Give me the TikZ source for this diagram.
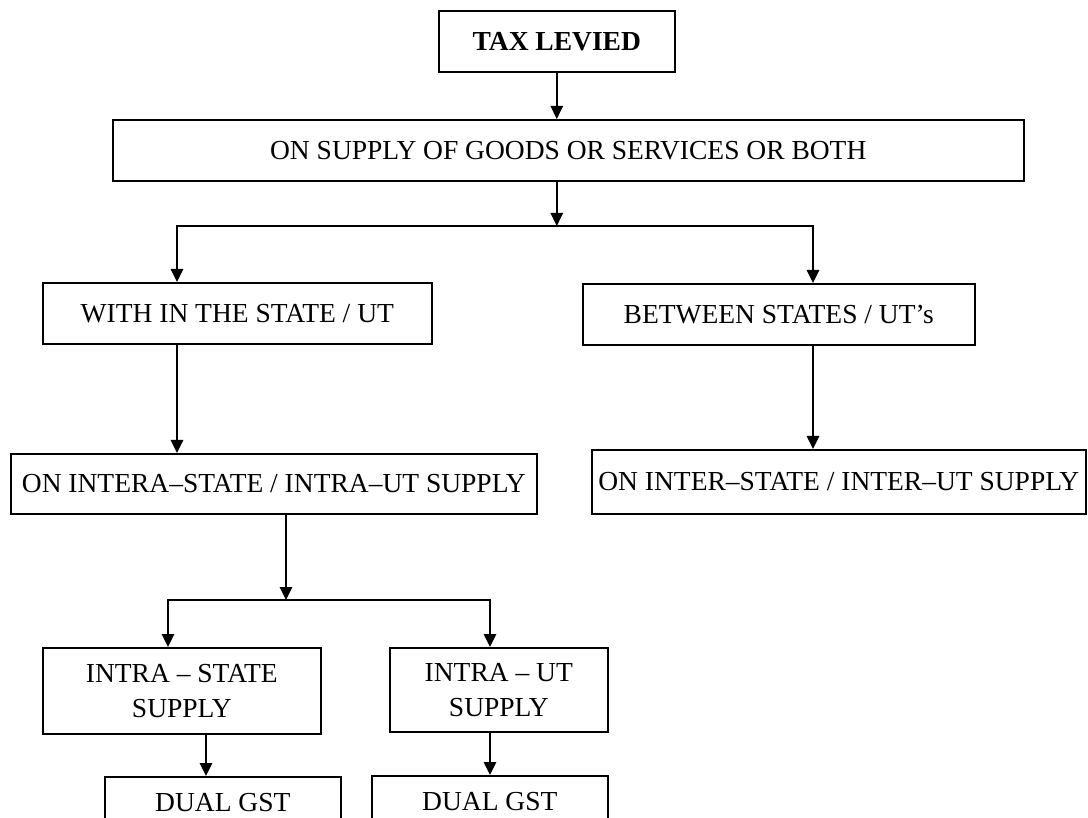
\documentclass[tikz,border=0pt]{standalone}
\usepackage{fontspec}
\setmainfont{Liberation Serif}
\usetikzlibrary{arrows.meta}

\begin{document}
\begin{tikzpicture}[x=0.5pt,y=-0.5pt,
  box/.style={draw,line width=0.8pt,inner sep=0pt,anchor=north west,align=center,
    font=\fontsize{13.75}{17.5}\selectfont},
  arr/.style={-{Triangle[length=6.5pt,width=6.2pt]},line width=0.7pt},
  link/.style={line width=0.7pt,line cap=rect}]
\useasboundingbox (0,0) rectangle (1088,818);
\clip (0,0) rectangle (1088,818);
% boxes
\node[box,minimum width=118pt,minimum height=30.5pt,
  font=\fontsize{13.75}{17.5}\selectfont\bfseries] (levied) at (438,10) {TAX LEVIED};
\node[box,minimum width=455.5pt,minimum height=30.5pt] (supply) at (112,119)
  {ON SUPPLY OF GOODS OR SERVICES OR BOTH};
\node[box,minimum width=194.5pt,minimum height=30.5pt] (within) at (42,282)
  {WITH IN THE STATE / UT};
\node[box,minimum width=196pt,minimum height=30.5pt] (between) at (582,283)
  {BETWEEN STATES / UT's};
\node[box,minimum width=263pt,minimum height=30pt] (intera) at (10,453)
  {ON INTERA–STATE / INTRA–UT SUPPLY};
\node[box,minimum width=247pt,minimum height=32pt] (inter) at (591,449)
  {ON INTER–STATE / INTER–UT SUPPLY};
\node[box,minimum width=139pt,minimum height=43pt] (istate) at (42,647)
  {INTRA – STATE\\SUPPLY};
\node[box,minimum width=109pt,minimum height=42pt] (iut) at (389,647)
  {INTRA – UT\\SUPPLY};
\node[box,minimum width=118pt,minimum height=26pt] (dualA) at (104,776) {DUAL GST};
\node[box,minimum width=118pt,minimum height=26pt] (dualB) at (371,775) {DUAL GST};
% first split
\coordinate (leftend) at (177,226);
\coordinate (rightend) at (813,226);
\coordinate (fork1) at (levied.south |- leftend);
\draw[arr] (levied.south) -- (levied.south |- supply.north);
\draw[arr] (levied.south |- supply.south) -- (fork1);
\draw[link] (leftend) -- (rightend);
\draw[arr] (leftend) -- (leftend |- within.north);
\draw[arr] (rightend) -- (rightend |- between.north);
\draw[arr] (leftend |- within.south) -- (leftend |- intera.north);
\draw[arr] (rightend |- between.south) -- (rightend |- inter.north);
% second split
\coordinate (fork2) at (286,600);
\coordinate (stateend) at (168,600);
\coordinate (utend) at (490,600);
\coordinate (gstA) at (206,776);
\draw[arr] (fork2 |- intera.south) -- (fork2);
\draw[link] (stateend) -- (utend);
\draw[arr] (stateend) -- (stateend |- istate.north);
\draw[arr] (utend) -- (utend |- iut.north);
\draw[arr] (gstA |- istate.south) -- (gstA |- dualA.north);
\draw[arr] (utend |- iut.south) -- (utend |- dualB.north);
\end{tikzpicture}
\end{document}
